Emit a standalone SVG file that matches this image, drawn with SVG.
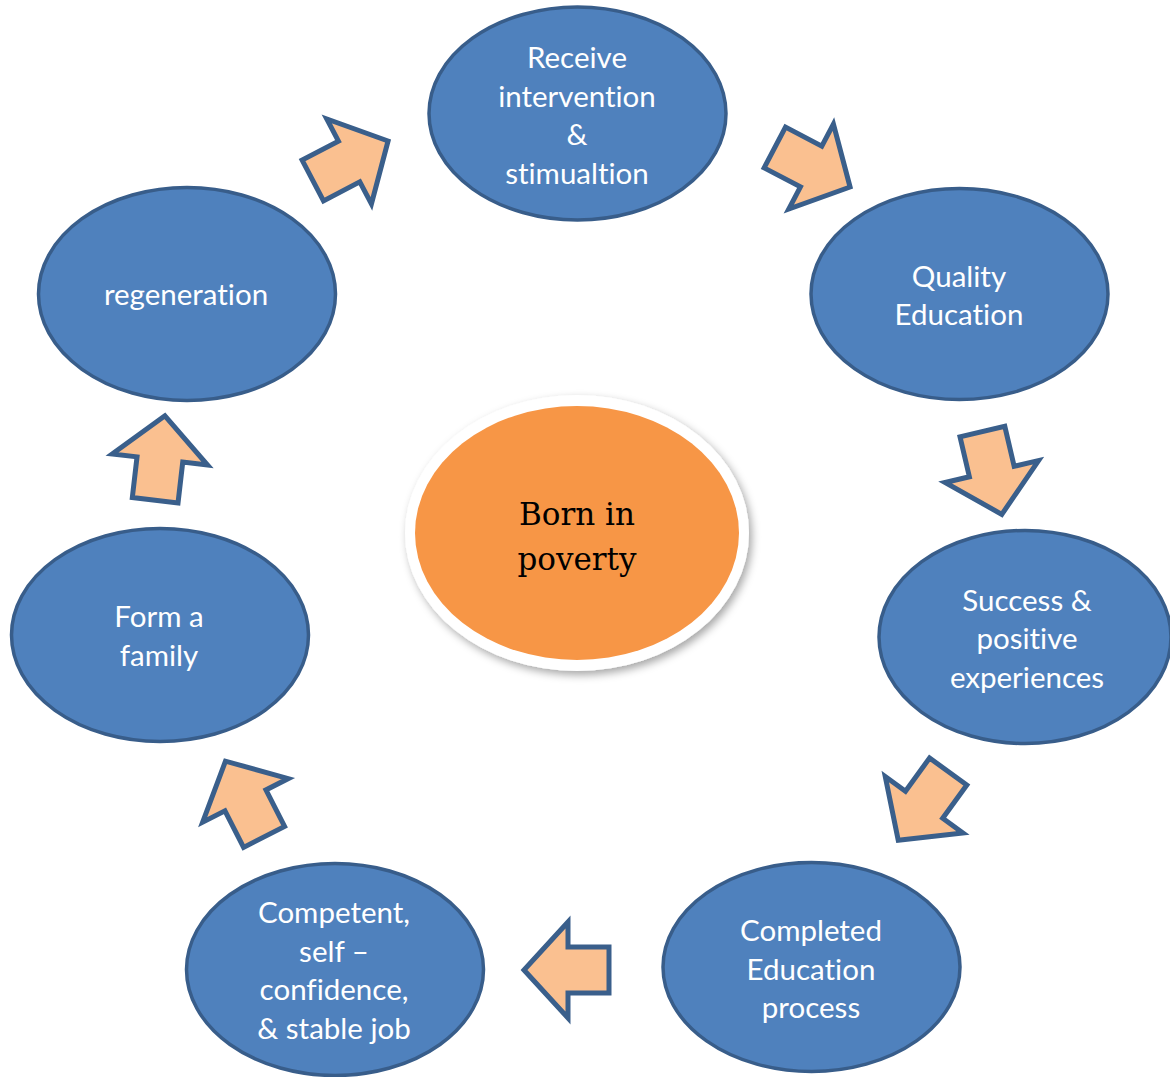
<svg xmlns="http://www.w3.org/2000/svg" width="1170" height="1077" viewBox="0 0 1170 1077">
  <defs>
    <style>
      .node { fill: #4F81BD; stroke: #385D8A; stroke-width: 3.5; }
      .label { font-family: Lato, "Open Sans", "Liberation Sans", sans-serif; font-size: 29.5px; fill: #FFFFFF; text-anchor: middle; font-variant-ligatures: none; font-feature-settings: "liga" 0, "dlig" 0; }
      .core-label { font-family: "DejaVu Serif", "Liberation Serif", serif; font-size: 31px; fill: #000000; text-anchor: middle; }
      .step { fill: #FAC090; stroke: #3A5F8B; stroke-width: 5; stroke-linejoin: miter; }
    </style>
    <!-- block arrow pointing along +x, centred on the origin -->
    <polygon id="block-arrow" points="43,0 -1,-48 -1,-23 -42,-23 -42,23 -1,23 -1,48"/>
    <filter id="soft-shadow" x="-20%" y="-20%" width="140%" height="140%">
      <feDropShadow dx="3" dy="4" stdDeviation="4" flood-color="#000000" flood-opacity="0.35"/>
    </filter>
  </defs>
  <rect width="1170" height="1077" fill="#FFFFFF"/>

  <!-- centre -->
  <g id="born-in-poverty">
    <ellipse cx="577" cy="533" rx="172" ry="138" fill="#FFFFFF" filter="url(#soft-shadow)"/>
    <ellipse cx="577" cy="533" rx="162" ry="127" fill="#F79646"/>
    <text class="core-label" x="577" y="525">Born in</text>
    <text class="core-label" x="577" y="570">poverty</text>
  </g>

  <!-- cycle steps -->
  <g id="receive-intervention">
    <ellipse class="node" cx="577.5" cy="113.5" rx="148.5" ry="106.5"/>
    <text class="label" x="577" y="68">Receive</text>
    <text class="label" x="577" y="106.5">intervention</text>
    <text class="label" x="577" y="145">&amp;</text>
    <text class="label" x="577" y="183.5">stimualtion</text>
  </g>

  <g id="quality-education">
    <ellipse class="node" cx="959.5" cy="294" rx="148.5" ry="105.5"/>
    <text class="label" x="959" y="286.5">Quality</text>
    <text class="label" x="959" y="325">Education</text>
  </g>

  <g id="success">
    <ellipse class="node" cx="1025" cy="637" rx="146" ry="106.5"/>
    <text class="label" x="1027" y="610.5">Success &amp;</text>
    <text class="label" x="1027" y="649">positive</text>
    <text class="label" x="1027" y="687.5">experiences</text>
  </g>

  <g id="completed-education">
    <ellipse class="node" cx="811.5" cy="967" rx="148.5" ry="104.5"/>
    <text class="label" x="811" y="941">Completed</text>
    <text class="label" x="811" y="979.5">Education</text>
    <text class="label" x="811" y="1018">process</text>
  </g>

  <g id="competent">
    <ellipse class="node" cx="335" cy="969.5" rx="148.5" ry="106"/>
    <text class="label" x="334" y="923">Competent,</text>
    <text class="label" x="334" y="961.5">self –</text>
    <text class="label" x="334" y="1000">confidence,</text>
    <text class="label" x="334" y="1038.5">&amp; stable job</text>
  </g>

  <g id="form-a-family">
    <ellipse class="node" cx="160" cy="635" rx="148.5" ry="106.5"/>
    <text class="label" x="159" y="627">Form a</text>
    <text class="label" x="159" y="665.5">family</text>
  </g>

  <g id="regeneration">
    <ellipse class="node" cx="187" cy="294" rx="148.5" ry="106.5"/>
    <text class="label" x="186" y="305">regeneration</text>
  </g>

  <!-- connectors -->
  <g id="connectors">
    <use href="#block-arrow" class="step" transform="translate(350 161) rotate(-27.7)"/>
    <use href="#block-arrow" class="step" transform="translate(812 167) rotate(27.7)"/>
    <use href="#block-arrow" class="step" transform="translate(992 472.5) rotate(76.8)"/>
    <use href="#block-arrow" class="step" transform="translate(923.5 805.5) rotate(126)"/>
    <use href="#block-arrow" class="step" transform="translate(567 970) rotate(180)"/>
    <use href="#block-arrow" class="step" transform="translate(245 799.5) rotate(-117)"/>
    <use href="#block-arrow" class="step" transform="translate(160 458.5) rotate(-83.4)"/>
  </g>
</svg>
